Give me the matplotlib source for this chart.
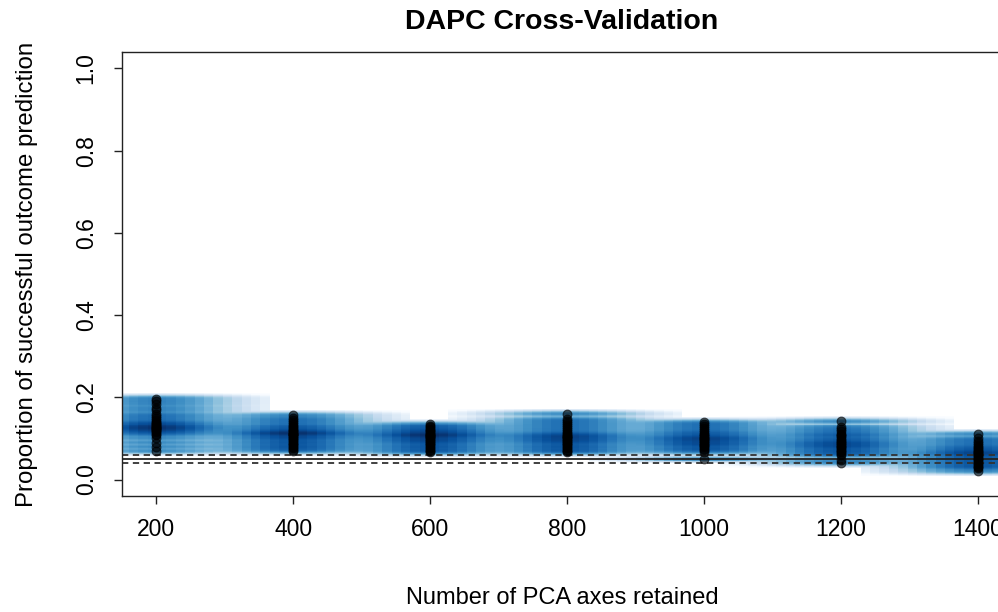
import numpy as np
import matplotlib
matplotlib.use("Agg")
import matplotlib.pyplot as plt
from matplotlib.colors import LinearSegmentedColormap

# cross-validation results
n_pca = [200, 400, 600, 800, 1000, 1200, 1400]
success = [
    [0.197, 0.19, 0.183, 0.175, 0.168, 0.16, 0.155, 0.15, 0.145, 0.14, 0.138, 0.135, 0.132, 0.13,
     0.128, 0.125, 0.125, 0.122, 0.12, 0.118, 0.115, 0.112, 0.108, 0.1, 0.09, 0.08, 0.07],
    [0.157, 0.15, 0.145, 0.14, 0.135, 0.13, 0.127, 0.123, 0.12, 0.117, 0.115, 0.112, 0.112, 0.11,
     0.108, 0.105, 0.102, 0.1, 0.097, 0.093, 0.09, 0.087, 0.083, 0.08, 0.077, 0.073, 0.07],
    [0.135, 0.13, 0.127, 0.123, 0.12, 0.117, 0.115, 0.112, 0.11, 0.108, 0.107, 0.105, 0.103, 0.1,
     0.098, 0.095, 0.093, 0.09, 0.087, 0.083, 0.08, 0.077, 0.073, 0.07, 0.067],
    [0.16, 0.148, 0.143, 0.138, 0.133, 0.128, 0.123, 0.118, 0.113, 0.11, 0.107, 0.105, 0.103, 0.1,
     0.098, 0.095, 0.093, 0.09, 0.087, 0.083, 0.08, 0.077, 0.073, 0.07, 0.067],
    [0.14, 0.135, 0.13, 0.125, 0.12, 0.115, 0.112, 0.108, 0.105, 0.102, 0.1, 0.098, 0.095, 0.093,
     0.09, 0.087, 0.085, 0.082, 0.078, 0.075, 0.072, 0.068, 0.05],
    [0.142, 0.128, 0.122, 0.117, 0.112, 0.108, 0.105, 0.1, 0.097, 0.093, 0.09, 0.088, 0.085, 0.082,
     0.08, 0.077, 0.073, 0.07, 0.067, 0.063, 0.06, 0.047, 0.04],
    [0.11, 0.1, 0.095, 0.09, 0.085, 0.08, 0.077, 0.073, 0.07, 0.067, 0.065, 0.063, 0.06, 0.057,
     0.053, 0.05, 0.047, 0.043, 0.04, 0.037, 0.033, 0.03, 0.027, 0.02],
]
# random chance: 2.5%, 50%, 97.5% quantiles
chance = [0.0395, 0.0493, 0.0607]

xticks = [200, 400, 600, 800, 1000, 1200, 1400]
yticks = [0.0, 0.2, 0.4, 0.6, 0.8, 1.0]

font = "Liberation Sans"

xs = np.concatenate([[x] * len(s) for x, s in zip(n_pca, success)]).astype(float)
ys = np.concatenate(success)

# smoothScatter-like density (truncated gaussian kernel, 4th root)
bw_x, bw_y = 50.0, 0.0035
gx = np.linspace(30, 1770, 128)
gy = np.linspace(-0.04, 0.26, 128)
GX, GY = np.meshgrid(gx, gy)
dens = np.zeros_like(GX)
for px, py in zip(xs, ys):
    u = (GX - px) / bw_x
    v = (GY - py) / bw_y
    k = np.exp(-0.5 * (u**2 + v**2))
    k[(np.abs(u) > 3.4) | (np.abs(v) > 3.4)] = 0
    dens += k
dens = (dens / dens.max()) ** 0.25

blues9 = ["#F7FBFF", "#DEEBF7", "#C6DBEF", "#9ECAE1", "#6BAED6",
          "#4292C6", "#2171B5", "#08519C", "#08306B"]
cmap = LinearSegmentedColormap.from_list("ramp", ["white"] + blues9)

fig = plt.figure(figsize=(9.98, 6.12), dpi=100)
ax = fig.add_axes([122 / 998, 1 - 496 / 612, 1 - 122 / 998 + 0.01, (496 - 52) / 612])

dx = gx[1] - gx[0]
dy = gy[1] - gy[0]
ax.imshow(dens, cmap=cmap, origin="lower", aspect="auto", interpolation="nearest",
          extent=[gx[0] - dx / 2, gx[-1] + dx / 2, gy[0] - dy / 2, gy[-1] + dy / 2], zorder=1)

ax.axhline(chance[0], color="#333333", lw=1.3, ls=(0, (3.5, 2.5)), zorder=2)
ax.axhline(chance[1], color="#222222", lw=1.3, zorder=2)
ax.axhline(chance[2], color="#333333", lw=1.3, ls=(0, (3.5, 2.5)), zorder=2)

ax.scatter(xs, ys, s=40, color="black", alpha=0.6, linewidths=0.8, zorder=3)

ax.set_xlim(150, 1444)
ax.set_ylim(-0.04, 1.04)
ax.set_xticks(xticks)
ax.set_yticks(yticks)
ax.set_xticklabels([str(t) for t in xticks], family=font, fontsize=16.5)
ax.set_yticklabels([f"{t:.1f}" for t in yticks], family=font, fontsize=16.5,
                   rotation=90, va="center")
ax.tick_params(direction="out", length=5.5, width=1, color="#222222", pad=10)
ax.tick_params(axis="y", pad=12)
ax.spines["right"].set_visible(False)
for s in ["left", "bottom", "top"]:
    ax.spines[s].set_linewidth(1)
    ax.spines[s].set_color("#222222")

fig.text(562 / 998, 1 - 22 / 612, "DAPC Cross-Validation", ha="center", va="center",
         family=font, fontweight="bold", fontsize=20.5)
fig.text(562 / 998, 1 - 598 / 612, "Number of PCA axes retained", ha="center", va="center",
         family=font, fontsize=17)
fig.text(27 / 998, 1 - 274 / 612, "Proportion of successful outcome prediction", ha="center",
         va="center", rotation=90, family=font, fontsize=17.3)

fig.savefig("out.png", dpi=100)
